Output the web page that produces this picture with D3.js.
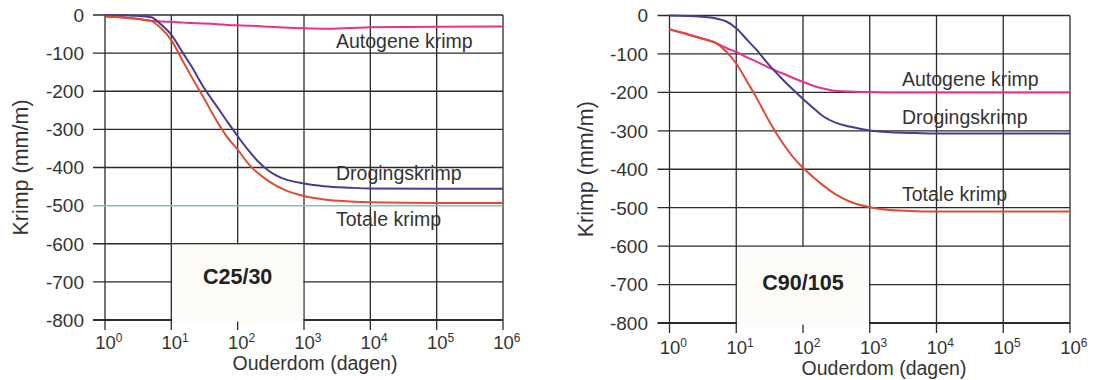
<!DOCTYPE html>
<html>
<head>
<meta charset="utf-8">
<script src="https://cdn.jsdelivr.net/npm/d3@7"></script>
<style>
  html, body { margin: 0; padding: 0; background: #fff; }
  svg { display: block; }
  text { font-family: "Liberation Sans", Arial, Helvetica, sans-serif; fill: #333; }
</style>
</head>
<body>
<svg id="chart" width="1095" height="380"></svg>
<script>
// ---------- DATA ----------
const ages = [1, 2, 3, 5, 7, 10, 15, 20, 30, 50, 70, 100, 150, 200, 300, 500, 1000, 2000, 5000, 10000, 100000, 1000000];

const leftAutogene = [-4, -7, -10, -15, -17, -18, -20, -21, -22, -24, -26, -27, -28, -29, -31, -33, -35, -36, -34, -32, -31, -30];
const leftDroging  = [0, -1, -2, -6, -25, -52, -100, -134, -187, -243, -280, -318, -358, -383, -410, -430, -442, -449, -453, -455, -456, -456];
const leftTotale   = [-4, -7, -10, -16, -35, -66, -122, -161, -214, -282, -321, -353, -393, -414, -437, -458, -475, -484, -489, -491, -493, -493];

const rightAutogene = [-36, -50, -59, -72, -84, -95, -110, -120, -135, -151, -162, -173, -184, -190, -196, -198, -199, -200, -200, -200, -200, -200];
const rightDroging  = [0, -1, -3, -8, -15, -33, -66, -89, -126, -167, -192, -217, -244, -262, -278, -289, -299, -304, -306, -307, -307, -307];
const rightTotale   = [-36, -51, -60, -72, -93, -125, -176, -213, -270, -333, -367, -396, -424, -442, -464, -484, -499, -506, -509, -510, -510, -510];

const leftReference = -500;           // teal reference line in left panel
const yTicks = [0, -100, -200, -300, -400, -500, -600, -700, -800];
const xTickExponents = [0, 1, 2, 3, 4, 5, 6];
const seriesNames = ["Autogene krimp", "Drogingskrimp", "Totale krimp"];
const panelNames = ["C25/30", "C90/105"];
const yTitle = "Krimp (mm/m)";
const xTitle = "Ouderdom (dagen)";

// ---------- STYLE / LAYOUT ----------
const colors = { autogene: "#ea2f8c", droging: "#4b3b8e", totale: "#e04b33", ref: "#86c3b7", grid: "#2b2b2b" };

const panels = [
  { x0: 105, x1: 503, y0: 15, y1: 320, tickLabelX: 84, yTitleX: 28, xTickBase: 349, xTitleX: 315, xTitleY: 370,
    labelX: 336, labelY: [48, 180, 226], boxTextY: 284,
    series: [leftAutogene, leftDroging, leftTotale], ref: leftReference, name: panelNames[0] },
  { x0: 669.5, x1: 1070, y0: 15.5, y1: 323, tickLabelX: 648, yTitleX: 593, xTickBase: 354, xTitleX: 884, xTitleY: 375,
    labelX: 902, labelY: [86, 124, 201], boxTextY: 290,
    series: [rightAutogene, rightDroging, rightTotale], ref: null, name: panelNames[1] }
];

const svg = d3.select("#chart");
const seriesColors = [colors.autogene, colors.droging, colors.totale];

panels.forEach(p => {
  const g = svg.append("g");
  const x = d3.scaleLog().domain([1, 1e6]).range([p.x0, p.x1]);
  const y = d3.scaleLinear().domain([0, -800]).range([p.y0, p.y1]);
  const xt = xTickExponents.map(e => Math.pow(10, e));

  // vertical grid + ticks
  g.selectAll(".vg").data(xt).join("line")
    .attr("x1", d => x(d)).attr("x2", d => x(d))
    .attr("y1", y(0)).attr("y2", y(-800) + 10)
    .attr("stroke", colors.grid).attr("stroke-width", 1.3);

  // horizontal grid + ticks
  g.selectAll(".hg").data(yTicks.filter(t => t !== p.ref)).join("line")
    .attr("x1", p.x0 - 12).attr("x2", p.x1)
    .attr("y1", d => y(d)).attr("y2", d => y(d))
    .attr("stroke", colors.grid).attr("stroke-width", d => d === -800 ? 2.2 : 1.3);

  if (p.ref !== null) {
    g.append("line")
      .attr("x1", p.x0 - 12).attr("x2", p.x1)
      .attr("y1", y(p.ref)).attr("y2", y(p.ref))
      .attr("stroke", colors.ref).attr("stroke-width", 1.5);
  }

  // panel name box
  const bx0 = x(10) + 0.8, bx1 = x(1000) - 0.8;
  const by0 = y(-600) + 0.8, by1 = y(-800) + 1.6;
  g.append("rect").attr("x", bx0).attr("y", by0).attr("width", bx1 - bx0).attr("height", by1 - by0)
    .attr("fill", "#fcfbf8");
  g.append("text").attr("x", (x(10) + x(1000)) / 2).attr("y", p.boxTextY)
    .attr("text-anchor", "middle").attr("font-weight", "bold").attr("font-size", 21.5)
    .style("fill", "#222").text(p.name);

  // curves
  const line = d3.line().x(d => x(d[0])).y(d => y(d[1])).curve(d3.curveMonotoneX);
  p.series.forEach((vals, i) => {
    g.append("path").datum(ages.map((a, j) => [a, vals[j]]))
      .attr("fill", "none").attr("stroke", seriesColors[i]).attr("stroke-width", 2)
      .attr("d", line);
  });

  // series labels
  seriesNames.forEach((s, i) => {
    g.append("text").attr("x", p.labelX).attr("y", p.labelY[i]).attr("font-size", 19.5).text(s);
  });

  // y tick labels
  g.selectAll(".yl").data(yTicks).join("text")
    .attr("x", p.tickLabelX).attr("y", d => y(d)).attr("dy", "0.36em")
    .attr("text-anchor", "end").attr("font-size", 19).text(d => d);

  // x tick labels 10^n
  xTickExponents.forEach(e => {
    const t = g.append("text").attr("y", p.xTickBase).attr("font-size", 18.5);
    t.append("tspan").text("10");
    t.append("tspan").attr("font-size", 12).attr("dy", -7).text(String(e));
    const base = g.append("text").attr("font-size", 18.5).attr("visibility", "hidden").text("10");
    const w10 = base.node().getComputedTextLength();
    base.remove();
    t.attr("x", x(Math.pow(10, e)) - w10 / 2 + 0.5);
  });

  // axis titles
  g.append("text").attr("transform", `translate(${p.yTitleX},${(p.y0 + p.y1) / 2}) rotate(-90)`)
    .attr("text-anchor", "middle").attr("font-size", 21.5).text(yTitle);
  g.append("text").attr("x", p.xTitleX).attr("y", p.xTitleY)
    .attr("text-anchor", "middle").attr("font-size", 19.5).text(xTitle);
});
</script>
</body>
</html>
